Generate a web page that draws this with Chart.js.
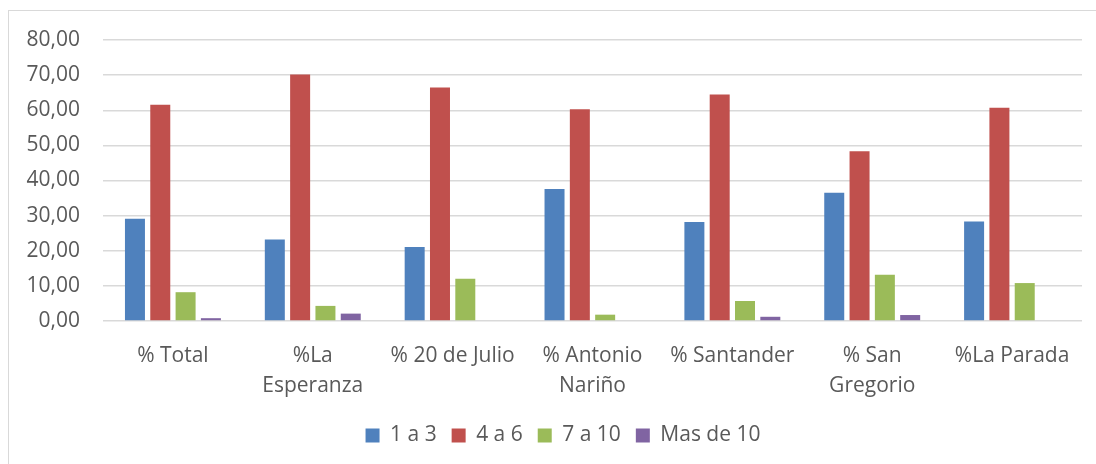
<!DOCTYPE html>
<html>
<head>
<meta charset="utf-8">
<script src="https://cdn.jsdelivr.net/npm/chart.js@4"></script>
<style>
  html, body { margin: 0; padding: 0; background: #fff; }
  #wrap { position: relative; width: 1096px; height: 464px; overflow: hidden; }
  #frame { position: absolute; left: 8px; top: 10px; width: 1200px; height: 600px; border: 1.5px solid #d9d9d9; box-sizing: border-box; }
  canvas { position: absolute; left: 0; top: 0; }
</style>
</head>
<body>
<div id="wrap">
  <div id="frame"></div>
  <canvas id="c" width="1096" height="464"></canvas>
</div>
<script>
const categories = [
  "% Total",
  ["%La", "Esperanza"],
  "% 20 de Julio",
  ["% Antonio", "Nariño"],
  "% Santander",
  ["% San", "Gregorio"],
  "%La Parada"
];
const seriesNames = ["1 a 3", "4 a 6", "7 a 10", "Mas de 10"];
const values1a3   = [29.1, 23.2, 21.1, 37.6, 28.2, 36.5, 28.3];
const values4a6   = [61.6, 70.2, 66.5, 60.3, 64.5, 48.3, 60.7];
const values7a10  = [8.2, 4.3, 12.0, 1.8, 5.7, 13.2, 10.8];
const valuesMas10 = [0.8, 2.1, 0, 0, 1.2, 1.7, 0];
const colors = ["#4F81BD", "#C0504D", "#9BBB59", "#8064A2"];
const yMin = 0, yMax = 80, yStep = 10;

const FONT = "'Open Sans', 'Liberation Sans', sans-serif";
const TXT = "#595959";

const allValues = [values1a3, values4a6, values7a10, valuesMas10];
const datasets = allValues.map((v, i) => ({
  label: seriesNames[i],
  data: v,
  backgroundColor: colors[i],
  borderWidth: 0,
  categoryPercentage: 0.724,
  barPercentage: 0.79
}));

const legendShift = {
  id: 'legendShift',
  afterLayout(chart) {
    if (chart.legend) { chart.legend.left += 22; chart.legend.right += 22; }
  }
};

new Chart(document.getElementById('c'), {
  type: 'bar',
  data: { labels: categories, datasets },
  plugins: [legendShift],
  options: {
    responsive: false,
    animation: false,
    layout: { padding: { left: 0, right: 14, top: 40, bottom: 8 } },
    plugins: {
      tooltip: { enabled: false },
      legend: {
        position: 'bottom',
        labels: {
          boxWidth: 14, boxHeight: 14, padding: 15,
          color: TXT,
          font: { family: FONT, size: 21 }
        }
      }
    },
    scales: {
      x: {
        grid: { display: false, drawTicks: false },
        border: { display: false },
        ticks: {
          color: TXT, padding: 20, maxRotation: 0, autoSkip: false,
          font: { family: FONT, size: 21, lineHeight: '30px' }
        },
        afterFit: (s) => { s.height = 89; }
      },
      y: {
        min: yMin, max: yMax,
        grid: { color: '#d9d9d9', lineWidth: 1.5, drawTicks: false },
        border: { display: false },
        ticks: {
          stepSize: yStep, color: TXT, padding: 23,
          font: { family: FONT, size: 21 },
          callback: (v) => Number(v).toFixed(2).replace('.', ',')
        },
        afterFit: (s) => { s.width = 103; }
      }
    }
  }
});
</script>
</body>
</html>
